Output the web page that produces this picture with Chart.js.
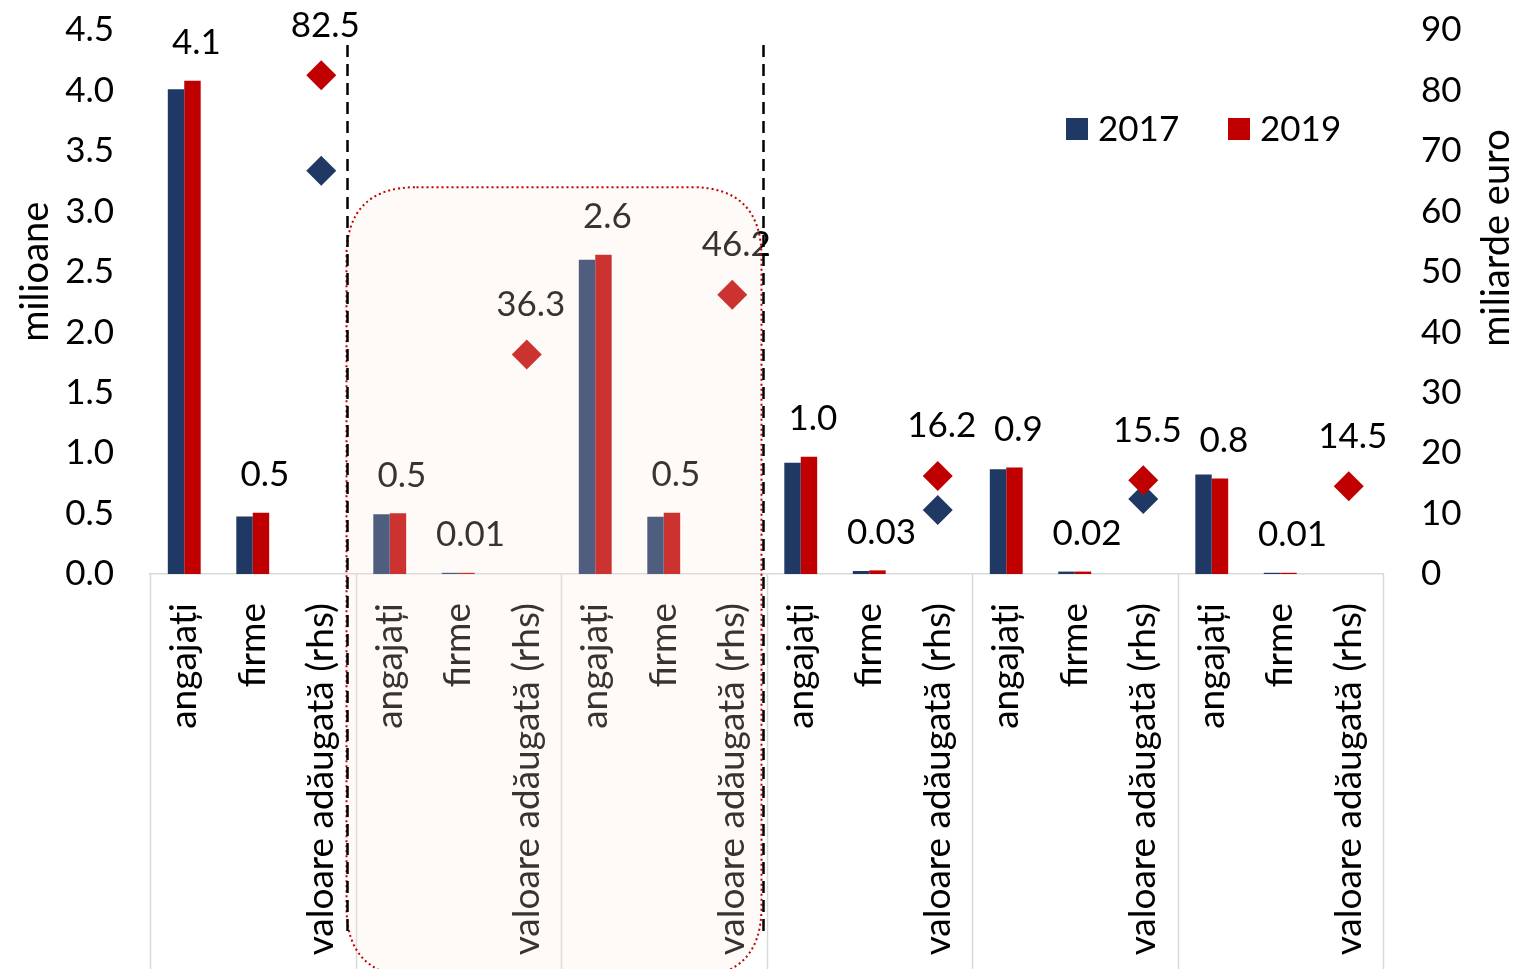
<!DOCTYPE html>
<html>
<head>
<meta charset="utf-8">
<script src="https://cdn.jsdelivr.net/npm/chart.js@4.4.0/dist/chart.umd.min.js"></script>
<style>
  html, body { margin: 0; padding: 0; background: #fff; }
  #wrap { width: 1518px; height: 969px; position: relative; }
</style>
</head>
<body>
<div id="wrap"><canvas id="chart"></canvas></div>
<script>
// --- data ---
const groupItems = ['angajați', 'firme', 'valoare adăugată (rhs)'];
const categories = [].concat(groupItems, groupItems, groupItems, groupItems, groupItems, groupItems);

// milioane (left axis)
const bars2017 = [4.01, 0.475, null, 0.494, 0.01, null, 2.60, 0.474, null, 0.92, 0.025, null, 0.866, 0.02, null, 0.824, 0.01, null];
const bars2019 = [4.08, 0.506, null, 0.502, 0.01, null, 2.64, 0.507, null, 0.97, 0.03, null, 0.88, 0.02, null, 0.79, 0.01, null];

// miliarde euro (right axis)
const va2017 = [null, null, 66.7, null, null, null, null, null, null, null, null, 10.6, null, null, 12.4, null, null, null];
const va2019 = [null, null, 82.5, null, null, 36.3, null, null, 46.2, null, null, 16.2, null, null, 15.5, null, null, 14.5];

const leftMax = 4.5, leftStep = 0.5;
const rightMax = 90, rightStep = 10;

const NAVY = '#203864';
const RED = '#c00000';
const FONT = 'Lato, "Open Sans", sans-serif';

const extras = {
    id: 'extras',
    afterDraw(chart) {
        const ctx = chart.ctx;
        const x = chart.scales.x;
        const y = chart.scales.y;
        const area = chart.chartArea;
        const half = (x.getPixelForValue(1) - x.getPixelForValue(0)) / 2;
        const H = chart.height;

        ctx.save();

        // group dividers under the axis
        ctx.strokeStyle = '#d9d9d9';
        ctx.lineWidth = 1.5;
        for (let i = 0; i <= categories.length; i += 3) {
            const px = Math.round(x.getPixelForValue(i) - half) + 0.5;
            ctx.beginPath();
            ctx.moveTo(px, area.bottom);
            ctx.lineTo(px, H);
            ctx.stroke();
        }

        // data labels
        ctx.fillStyle = '#000';
        ctx.font = '35px ' + FONT;
        ctx.textAlign = 'center';
        ctx.textBaseline = 'middle';
        const barMeta = chart.getDatasetMeta(1);
        bars2019.forEach((v, i) => {
            if (v === null) return;
            const el = barMeta.data[i];
            const txt = v < 0.1 ? v.toFixed(2) : v.toFixed(1);
            ctx.fillText(txt, el.x + 4, el.y - 38);
        });
        const vaMeta = chart.getDatasetMeta(3);
        va2019.forEach((v, i) => {
            if (v === null) return;
            const el = vaMeta.data[i];
            ctx.fillText(v.toFixed(1), el.x + 4, el.y - 50);
        });

        // legend
        const items = [[chart.data.datasets[0].label, NAVY], [chart.data.datasets[1].label, RED]];
        ctx.font = '35px ' + FONT;
        ctx.textAlign = 'left';
        items.forEach((it, k) => {
            const lx = area.left + 916 + k * 162;
            const ly = area.top + 99;
            ctx.fillStyle = it[1];
            ctx.fillRect(lx, ly - 11, 22, 22);
            ctx.fillStyle = '#000';
            ctx.fillText(it[0], lx + 32, ly + 1);
        });

        // axis titles
        ctx.font = '38px ' + FONT;
        ctx.textAlign = 'center';
        ctx.save();
        ctx.translate(area.left - 114, y.getPixelForValue(2.5));
        ctx.rotate(-Math.PI / 2);
        ctx.fillText('milioane', 0, 0);
        ctx.restore();
        ctx.save();
        ctx.translate(area.right + 114, area.top + 208);
        ctx.rotate(-Math.PI / 2);
        ctx.fillText('miliarde euro', 0, 0);
        ctx.restore();

        // highlighted block (groups 2 and 3)
        const bx0 = x.getPixelForValue(3) - half - 9;
        const bx1 = x.getPixelForValue(9) - half - 5;
        const by0 = y.getPixelForValue(3.2);
        const by1 = H + 8;
        const r = 70;
        ctx.beginPath();
        ctx.moveTo(bx0 + r, by0);
        ctx.lineTo(bx1 - r, by0);
        ctx.quadraticCurveTo(bx1, by0, bx1, by0 + r);
        ctx.lineTo(bx1, by1 - r);
        ctx.quadraticCurveTo(bx1, by1, bx1 - r, by1);
        ctx.lineTo(bx0 + r, by1);
        ctx.quadraticCurveTo(bx0, by1, bx0, by1 - r);
        ctx.lineTo(bx0, by0 + r);
        ctx.quadraticCurveTo(bx0, by0, bx0 + r, by0);
        ctx.closePath();
        ctx.fillStyle = 'rgba(245, 232, 220, 0.22)';
        ctx.fill();
        ctx.setLineDash([2, 3]);
        ctx.lineWidth = 2;
        ctx.strokeStyle = RED;
        ctx.stroke();

        // dashed separators
        ctx.setLineDash([12, 7]);
        ctx.strokeStyle = '#000';
        ctx.lineWidth = 2.5;
        [x.getPixelForValue(3) - half - 8, x.getPixelForValue(9) - half - 3].forEach(px => {
            ctx.beginPath();
            ctx.moveTo(px, area.top + 15);
            ctx.lineTo(px, 935);
            ctx.stroke();
        });

        ctx.restore();
    }
};

function fitVertical(width) {
    return s => {
        s.width = width;
        s.paddingTop = 0;
        s.paddingBottom = 0;
    };
}

new Chart(document.getElementById('chart'), {
    data: {
        labels: categories,
        datasets: [
            {
                type: 'bar', label: '2017', data: bars2017, yAxisID: 'y',
                backgroundColor: NAVY, order: 2,
                barPercentage: 1, categoryPercentage: 0.48
            },
            {
                type: 'bar', label: '2019', data: bars2019, yAxisID: 'y',
                backgroundColor: RED, order: 2,
                barPercentage: 1, categoryPercentage: 0.48
            },
            {
                type: 'line', label: '2017 valoare', data: va2017, yAxisID: 'y1',
                showLine: false, pointStyle: 'rectRot', pointRadius: 15,
                backgroundColor: NAVY, borderColor: NAVY, borderWidth: 0, order: 1
            },
            {
                type: 'line', label: '2019 valoare', data: va2019, yAxisID: 'y1',
                showLine: false, pointStyle: 'rectRot', pointRadius: 15,
                backgroundColor: RED, borderColor: RED, borderWidth: 0, order: 0
            }
        ]
    },
    options: {
        responsive: true,
        maintainAspectRatio: false,
        animation: false,
        layout: { padding: { top: 30, left: 0, right: 0, bottom: 0 } },
        plugins: {
            legend: { display: false },
            tooltip: { enabled: false }
        },
        scales: {
            x: {
                offset: true,
                grid: { display: false },
                border: { display: true, color: '#d9d9d9', width: 1.5 },
                ticks: {
                    autoSkip: false, minRotation: 90, maxRotation: 90,
                    padding: 21, color: '#000',
                    font: { family: FONT, size: 37 }
                },
                afterFit: s => { s.height = 395; }
            },
            y: {
                position: 'left', min: 0, max: leftMax,
                grid: { display: false },
                border: { display: false },
                ticks: {
                    stepSize: leftStep, padding: 28, color: '#000',
                    font: { family: FONT, size: 35 },
                    callback: v => v.toFixed(1)
                },
                afterFit: fitVertical(150)
            },
            y1: {
                position: 'right', min: 0, max: rightMax,
                grid: { display: false },
                border: { display: false },
                ticks: {
                    stepSize: rightStep, padding: 30, color: '#000',
                    font: { family: FONT, size: 35 }
                },
                afterFit: fitVertical(135)
            }
        }
    },
    plugins: [extras]
});
</script>
</body>
</html>
